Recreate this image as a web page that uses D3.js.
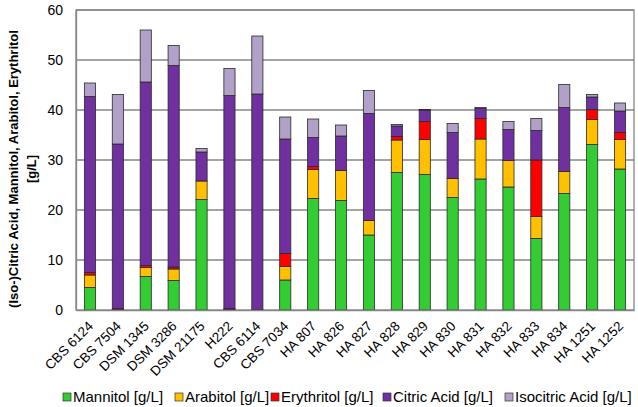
<!DOCTYPE html>
<html>
<head>
<meta charset="utf-8">
<script src="https://d3js.org/d3.v7.min.js"></script>
<style>
  html, body { margin: 0; padding: 0; background: #fff; }
  svg { display: block; font-family: Arial, "Liberation Sans", sans-serif; }
</style>
</head>
<body>
<svg id="chart" width="638" height="407"></svg>
<script>
const categories = ["CBS 6124","CBS 7504","DSM 1345","DSM 3286","DSM 21175","H222","CBS 6114","CBS 7034","HA 807","HA 826","HA 827","HA 828","HA 829","HA 830","HA 831","HA 832","HA 833","HA 834","HA 1251","HA 1252"];
const mannitol   = [4.5, 0.1, 6.7, 5.9, 22.1, 0.1, 0.0, 6.0, 22.3, 21.9, 15.0, 27.5, 27.1, 22.5, 26.2, 24.6, 14.3, 23.3, 33.1, 28.2];
const arabitol   = [2.5, 0.0, 1.8, 2.3, 3.7, 0.0, 0.0, 2.7, 5.8, 6.0, 2.9, 6.5, 7.0, 3.8, 8.0, 5.3, 4.4, 4.4, 5.0, 5.9];
const erythritol = [0.5, 0.2, 0.4, 0.4, 0.0, 0.2, 0.1, 2.6, 0.6, 0.0, 0.0, 0.7, 3.6, 0.0, 4.1, 0.0, 11.3, 0.0, 2.0, 1.4];
const citric     = [35.2, 32.9, 36.7, 40.3, 5.8, 42.6, 43.1, 22.9, 5.8, 6.9, 21.4, 2.1, 2.3, 9.2, 2.0, 6.2, 5.9, 12.8, 2.5, 4.3];
const isocitric  = [2.7, 9.9, 10.4, 4.0, 0.7, 5.4, 11.6, 4.4, 3.7, 2.2, 4.6, 0.3, 0.1, 1.8, 0.2, 1.6, 2.4, 4.6, 0.5, 1.6];
const seriesNames = ["Mannitol [g/L]","Arabitol [g/L]","Erythritol [g/L]","Citric Acid [g/L]","Isocitric Acid [g/L]"];
const yTicks = [0, 10, 20, 30, 40, 50, 60];
const colors = ["#33cc33","#ffc000","#ff0000","#7030a0","#b1a0c7"];

const seriesData = [mannitol, arabitol, erythritol, citric, isocitric];
const svg = d3.select("#chart");
const W = 638, H = 407;
const m = {left: 76, right: 4, top: 10, bottom: 97};

const x = d3.scaleBand().domain(categories).range([m.left, W - m.right]).paddingInner(0.6).paddingOuter(0.3);
const y = d3.scaleLinear().domain([0, 60]).range([H - m.bottom, m.top]);

// gridlines
svg.append("g").selectAll("line").data(yTicks.filter(d => d > 0)).join("line")
  .attr("x1", m.left).attr("x2", W - m.right)
  .attr("y1", d => y(d)).attr("y2", d => y(d))
  .attr("stroke", "#868686").attr("stroke-width", 1.3);

// plot box
svg.append("rect").attr("x", m.left).attr("y", m.top)
  .attr("width", W - m.right - m.left).attr("height", H - m.bottom - m.top)
  .attr("fill", "none").attr("stroke", "#868686").attr("stroke-width", 1.3);

// stacked data
const table = categories.map((c, i) => {
  const o = {cat: c};
  seriesNames.forEach((s, j) => o[s] = seriesData[j][i]);
  return o;
});
const stacked = d3.stack().keys(seriesNames)(table);

svg.append("g").selectAll("g").data(stacked).join("g")
  .attr("fill", (d, i) => colors[i])
  .selectAll("rect").data(d => d.filter(p => p[1] - p[0] > 0)).join("rect")
  .attr("x", d => x(d.data.cat))
  .attr("width", x.bandwidth())
  .attr("y", d => y(d[1]))
  .attr("height", d => y(d[0]) - y(d[1]))
  .attr("stroke", "#2a2a2a").attr("stroke-width", 0.8);

// y axis
const yAxis = d3.axisLeft(y).tickValues(yTicks).tickSize(0).tickPadding(13);
const gy = svg.append("g").attr("transform", `translate(${m.left},0)`).call(yAxis);
gy.select(".domain").attr("stroke", "#868686").attr("stroke-width", 1.3);
gy.selectAll("text").attr("font-size", 14).attr("fill", "#000").attr("font-family", "Arial, 'Liberation Sans', sans-serif");

// x axis (domain line) + rotated labels
const xAxis = d3.axisBottom(x).tickSize(0).tickFormat("");
const gx = svg.append("g").attr("transform", `translate(0,${H - m.bottom})`).call(xAxis);
gx.select(".domain").attr("stroke", "#868686").attr("stroke-width", 1.3);

svg.append("g").selectAll("g").data(categories).join("g")
  .attr("transform", d => `translate(${x(d) + x.bandwidth() / 2 + 4},${H - m.bottom + 17}) rotate(-45)`)
  .append("text")
  .attr("text-anchor", "end")
  .attr("font-size", 13.5).attr("fill", "#000")
  .text(d => d);

// y title
const yt = svg.append("text").attr("transform", "translate(13,169) rotate(-90)")
  .attr("text-anchor", "middle").attr("font-weight", "bold").attr("font-size", 13).attr("fill", "#000");
yt.append("tspan").attr("x", 0).attr("dy", "0.35em").text("(Iso-)Citric Acid, Mannitol, Arabitol, Erythritol");
yt.append("tspan").attr("x", 0).attr("dy", "1.4em").text("[g/L]");

// legend
const legendX = [63, 175, 271, 383, 505];
const lg = svg.append("g").selectAll("g").data(seriesNames).join("g")
  .attr("transform", (d, i) => `translate(${legendX[i]},397)`);
lg.append("rect").attr("x", 0).attr("y", -4).attr("width", 8).attr("height", 8)
  .attr("fill", (d, i) => colors[i]).attr("stroke", "#333").attr("stroke-width", 0.7);
lg.append("text").attr("x", 10).attr("dy", "0.35em").attr("font-size", 15).attr("fill", "#000").text(d => d);
</script>
</body>
</html>
